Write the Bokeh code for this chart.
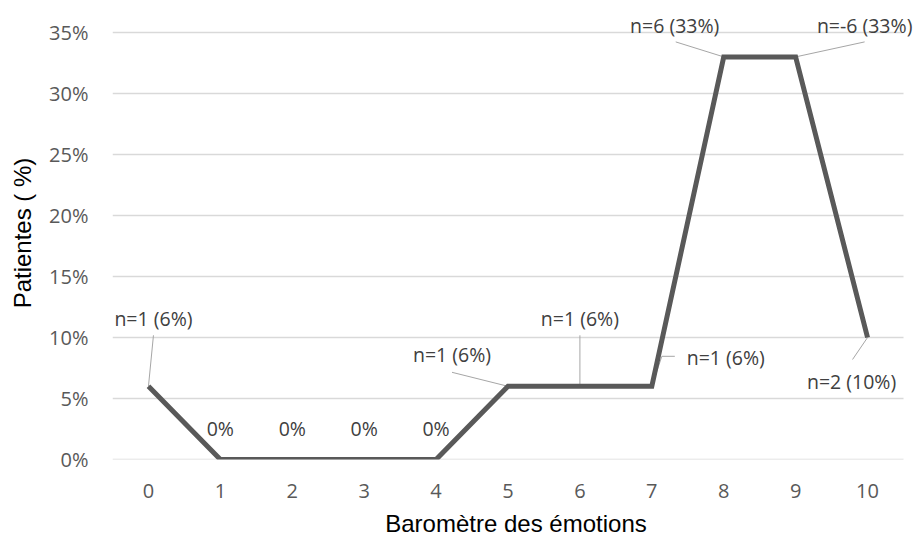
from bokeh.plotting import figure
from bokeh.models import Range1d, FixedTicker, NumeralTickFormatter, ColumnDataSource, LabelSet
from bokeh.core.properties import value
from bokeh.embed import file_html
from bokeh.resources import INLINE

# ---- data ----
scores = [0, 1, 2, 3, 4, 5, 6, 7, 8, 9, 10]
share = [0.06, 0.0, 0.0, 0.0, 0.0, 0.06, 0.06, 0.06, 0.33, 0.33, 0.10]
labels = ["n=1 (6%)", "0%", "0%", "0%", "0%", "n=1 (6%)", "n=1 (6%)",
          "n=1 (6%)", "n=6 (33%)", "n=-6 (33%)", "n=2 (10%)"]
y_ticks = [0.0, 0.05, 0.10, 0.15, 0.20, 0.25, 0.30, 0.35]

# ---- label placement (screen pixels, up is positive) ----
label_dx = [5, 0, 0, 0, 0, -56, 0, 74, -49, 69, -16]
label_dy = [68, 31, 31, 31, 31, 32, 68, 29, 31, 31, -44]
leaders = {
    0: [(0, 0), (5, 51)],
    5: [(0, 0), (-56, 14)],
    6: [(0, 0), (0, 51)],
    7: [(0, 0), (10, 30), (23, 30)],
    8: [(0, 0), (-48, 15)],
    9: [(0, 0), (69, 15)],
    10: [(0, 0), (-15, -22)],
}

W, H = 920, 543
grid_top = 32            # pixel row of the 35% gridline
grid_right = 903         # pixel column where gridlines end
ML, MR, MT, MB = 112, 1, 6, 84
cat_lo, cat_hi = -0.5, 10.5
y_lo, y_top_tick = 0.0, 0.35
px_x = (grid_right - ML) / (cat_hi - cat_lo)
px_y = (H - MB - grid_top) / (y_top_tick - y_lo)
x_hi = cat_hi + (W - MR - grid_right) / px_x   # headroom for right label
y_hi = y_top_tick + (grid_top - MT) / px_y     # headroom for top labels

p = figure(width=W, height=H, output_backend="svg", toolbar_location=None,
           x_range=Range1d(cat_lo, x_hi), y_range=Range1d(y_lo, y_hi),
           min_border_left=ML, min_border_right=MR, min_border_top=MT,
           min_border_bottom=MB, background_fill_color="white",
           border_fill_color="white")
p.outline_line_color = None

tick_font = "Open Sans"
title_font = "Liberation Sans"

# axes
p.xaxis.ticker = FixedTicker(ticks=scores)
p.yaxis.ticker = FixedTicker(ticks=y_ticks)
p.yaxis.formatter = NumeralTickFormatter(format="0%")
p.xaxis.bounds = (cat_lo, cat_hi)
p.yaxis.bounds = (y_lo, y_top_tick)
for ax in (p.xaxis[0], p.yaxis[0]):
    ax.axis_line_color = None
    ax.major_tick_line_color = None
    ax.minor_tick_line_color = None
    ax.major_tick_out = 0
    ax.major_tick_in = 0
    ax.major_label_text_font = tick_font
    ax.major_label_text_font_size = "20px"
    ax.major_label_text_color = "#595959"
    ax.axis_label_text_font = title_font
    ax.axis_label_text_font_size = "24px"
    ax.axis_label_text_font_style = "normal"
    ax.axis_label_text_color = "#000000"
p.xaxis.axis_label = "Baromètre des émotions"
p.yaxis.axis_label = "Patientes ( %)"
p.yaxis.major_label_standoff = 24
p.yaxis.axis_label_standoff = 10
p.xaxis.major_label_standoff = 24
p.xaxis.axis_label_standoff = 9

# horizontal gridlines, limited to the category span
p.xgrid.grid_line_color = None
p.ygrid.grid_line_color = None
p.segment(x0=[cat_lo] * len(y_ticks), x1=[cat_hi] * len(y_ticks),
          y0=y_ticks, y1=y_ticks, line_color="#d9d9d9", line_width=1.5)

# leader lines
xs, ys = [], []
for i, pts in leaders.items():
    xs.append([scores[i] + dx / px_x for dx, dy in pts])
    ys.append([share[i] + dy / px_y for dx, dy in pts])
p.multi_line(xs, ys, line_color="#a6a6a6", line_width=1)

# main line
p.line(scores, share, line_color="#595959", line_width=5, line_join="miter")

# data labels
src = ColumnDataSource(dict(x=scores, y=share, t=labels,
                            xo=label_dx, yo=label_dy))
p.add_layout(LabelSet(x="x", y="y", text="t", x_offset="xo", y_offset="yo",
                      source=src, text_align="center", text_baseline="middle",
                      text_font=value(tick_font), text_font_size="19.5px",
                      text_color="#404040"))

open("out.html", "w").write(file_html(p, INLINE))
